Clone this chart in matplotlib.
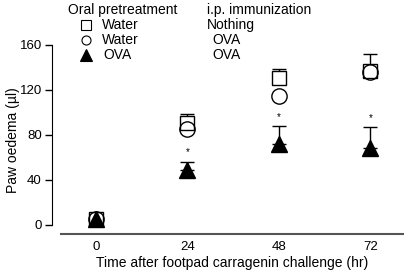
import numpy as np
import matplotlib
matplotlib.use("Agg")
import matplotlib.pyplot as plt

plt.rcParams['font.family'] = ['Liberation Sans', 'DejaVu Sans']

# time points (hr)
times = np.array([0, 24, 48, 72])

# Water / Nothing
water_nothing = np.array([5, 91, 131, 137])
water_nothing_err = np.array([0, 8, 8, 15])
# Water / OVA
water_ova = np.array([5, 85, 115, 136])
# OVA / OVA
ova_ova = np.array([5, 49, 72, 68])
ova_ova_err = np.array([0, 7, 16, 19])
# significance marks
star_times = [24, 48, 72]
star_y = [65, 96, 95]

fig = plt.figure(figsize=(4.04, 2.72), dpi=100)
ax = fig.add_axes([0.150, 0.1379, 0.85, 0.6967])

ax.errorbar(times, water_nothing, yerr=[np.zeros(4), water_nothing_err],
            fmt='none', ecolor='black', elinewidth=1, capsize=5, capthick=1, zorder=1)
ax.errorbar(times, ova_ova, yerr=[np.zeros(4), ova_ova_err],
            fmt='none', ecolor='black', elinewidth=1, capsize=5, capthick=1, zorder=1)

ax.plot(times, water_nothing, 's', ms=10.5, mfc='white', mec='black', mew=1, zorder=2)
ax.plot(times, water_ova, 'o', ms=11, mfc='none', mec='black', mew=1, zorder=3)
ax.plot(times, ova_ova, '^', ms=12, mfc='black', mec='black', zorder=4)

for t, y in zip(star_times, star_y):
    ax.text(t, y, '*', ha='center', va='center', fontsize=7)

ax.set_xlim(-9.24, 80.8)
ax.set_ylim(-8.44, 160)
ax.set_xticks(times)
ax.set_yticks([0, 40, 80, 120, 160])
ax.tick_params(axis='x', length=0, labelsize=9.5, pad=5)
ax.tick_params(axis='y', length=5, width=1, labelsize=9.5, pad=2)

for s in ['top', 'right']:
    ax.spines[s].set_visible(False)
ax.spines['left'].set_position(('outward', 6.5))
ax.spines['left'].set_bounds(0, 160)
ax.spines['bottom'].set_color('#555555')
ax.spines['bottom'].set_linewidth(1.5)

ax.set_xlabel('Time after footpad carragenin challenge (hr)', fontsize=10, labelpad=2)
ax.set_ylabel('Paw oedema (µl)', fontsize=10, labelpad=0)

# legend drawn as text block
fig.text(68/404, 1-10/272, 'Oral pretreatment', fontsize=10, va='center')
fig.text(207/404, 1-10/272, 'i.p. immunization', fontsize=10, va='center')
rows_y = [25, 40, 55]
row_left = ['Water', 'Water', 'OVA']
row_right = ['Nothing', 'OVA', 'OVA']
markers = [('s', 'white', 6.5), ('o', 'white', 6.5), ('^', 'black', 9)]
for y, l, r, (m, fc, ms) in zip(rows_y, row_left, row_right, markers):
    fig.lines.append(plt.Line2D([86/404], [1-y/272], marker=m, ms=ms, mfc=fc, mec='black',
                                mew=0.8, transform=fig.transFigure))
    fig.text((102 if l == 'Water' else 103)/404, 1-y/272, l, fontsize=10, va='center')
    fig.text((207 if r == 'Nothing' else 212)/404, 1-y/272, r, fontsize=10, va='center')

fig.savefig('out.png', dpi=100)
